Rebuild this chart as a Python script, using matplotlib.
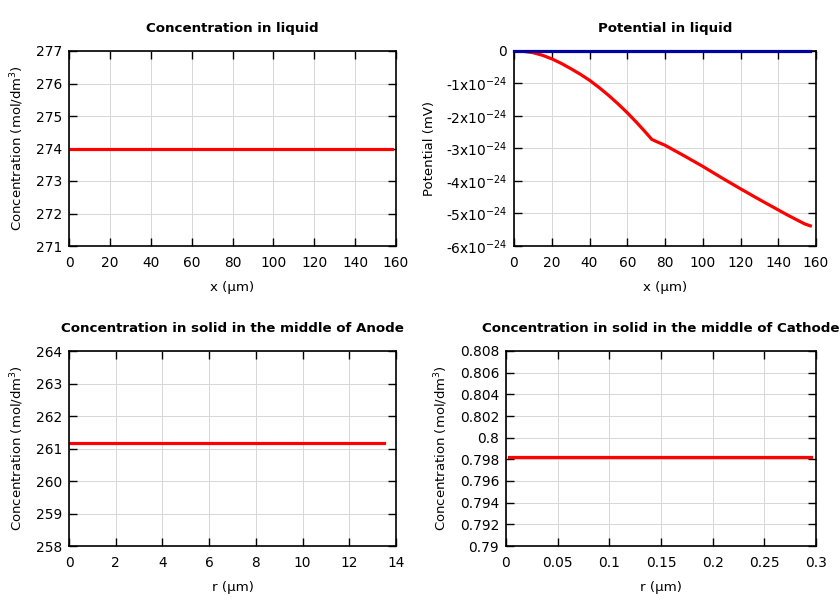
import matplotlib
matplotlib.use("Agg")
import matplotlib.pyplot as plt
from matplotlib.ticker import FuncFormatter

plt.rcParams['font.family'] = ['DejaVu Sans']

# Data
liq_x = [0, 158]
liq_c = [274.0, 274.0]

pot_x = [0, 5, 10, 15, 20, 25, 30, 35, 40, 45, 50, 55, 60, 65, 70, 73, 76, 80, 90, 100, 110, 120, 130, 140, 145, 150, 154, 157]
pot_red = [0.0, -0.01, -0.05, -0.13, -0.24, -0.38, -0.54, -0.71, -0.9, -1.12, -1.36, -1.62, -1.9, -2.2, -2.52, -2.72, -2.8, -2.9, -3.22, -3.55, -3.9, -4.24, -4.57, -4.89, -5.05, -5.2, -5.32, -5.38]
pot_blue_x = [0, 157]
pot_blue = [0.0, 0.0]

an_r = [0, 13.5]
an_c = [261.18, 261.18]

ca_r = [0.003, 0.295]
ca_c = [0.79819, 0.79819]

RED = '#ff0000'
BLUE = '#0000a0'
LW = 2.3

fig = plt.figure(figsize=(8.4, 6.0), dpi=100)
W, H = 840, 600

def make_ax(l, r, t, b):
    return fig.add_axes([l / W, 1 - b / H, (r - l) / W, (b - t) / H])

def style(ax, title, xlabel, ylabel):
    ax.set_title(title, fontsize=9.6, fontweight='bold', pad=14)
    ax.set_xlabel(xlabel, fontsize=9.6, labelpad=8)
    ax.set_ylabel(ylabel, fontsize=9.5, labelpad=7)
    ax.grid(True, color='#d6d6d6', linewidth=0.7)
    ax.set_axisbelow(True)
    ax.tick_params(direction='in', top=True, right=True, length=5.5, width=1,
                   labelsize=9.9)
    ax.tick_params(axis='x', pad=7)
    ax.tick_params(axis='y', pad=5)
    for s in ax.spines.values():
        s.set_linewidth(1.2)

# Top-left
ax1 = make_ax(69, 396, 51, 246)
ax1.plot(liq_x, liq_c, color=RED, lw=LW)
ax1.set_xlim(0, 160)
ax1.set_ylim(271, 277)
ax1.set_xticks(range(0, 161, 20))
ax1.set_yticks(range(271, 278))
style(ax1, 'Concentration in liquid', 'x (µm)', 'Concentration (mol/dm$^3$)')

# Top-right
ax2 = make_ax(514, 816, 51, 246)
ax2.plot(pot_x, pot_red, color=RED, lw=LW)
ax2.plot(pot_blue_x, pot_blue, color=BLUE, lw=LW, clip_on=False, zorder=5)
ax2.set_xlim(0, 160)
ax2.set_ylim(-6, 0)
ax2.set_xticks(range(0, 161, 20))
ax2.set_yticks(range(-6, 1))
ax2.yaxis.set_major_formatter(FuncFormatter(
    lambda v, p: '0' if round(v) == 0 else '-%dx10$^{-24}$' % abs(round(v))))
style(ax2, 'Potential in liquid', 'x (µm)', 'Potential (mV)')

# Bottom-left
ax3 = make_ax(69, 396, 351, 546)
ax3.plot(an_r, an_c, color=RED, lw=LW)
ax3.set_xlim(0, 14)
ax3.set_ylim(258, 264)
ax3.set_xticks(range(0, 15, 2))
ax3.set_yticks(range(258, 265))
style(ax3, 'Concentration in solid in the middle of Anode', 'r (µm)', 'Concentration (mol/dm$^3$)')

# Bottom-right
ax4 = make_ax(506, 816, 351, 546)
ax4.plot(ca_r, ca_c, color=RED, lw=LW)
ax4.set_xlim(0, 0.3)
ax4.set_ylim(0.79, 0.808)
xt = [0, 0.05, 0.1, 0.15, 0.2, 0.25, 0.3]
ax4.set_xticks(xt)
ax4.set_xticklabels(['0', '0.05', '0.1', '0.15', '0.2', '0.25', '0.3'])
yt = [0.79, 0.792, 0.794, 0.796, 0.798, 0.8, 0.802, 0.804, 0.806, 0.808]
ax4.set_yticks(yt)
ax4.set_yticklabels(['0.79', '0.792', '0.794', '0.796', '0.798', '0.8', '0.802', '0.804', '0.806', '0.808'])
style(ax4, 'Concentration in solid in the middle of Cathode', 'r (µm)', 'Concentration (mol/dm$^3$)')

fig.savefig('out.png', dpi=100)
